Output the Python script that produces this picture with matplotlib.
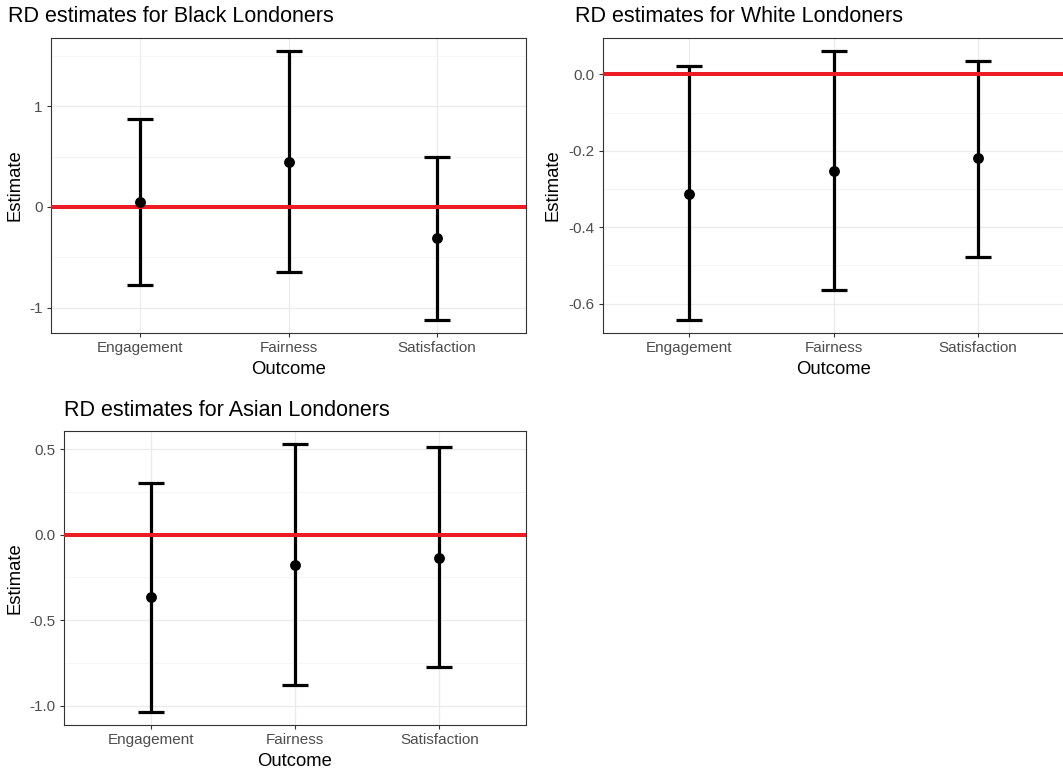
import matplotlib
matplotlib.use("Agg")
import matplotlib.pyplot as plt
import numpy as np
from matplotlib.ticker import FixedLocator

plt.rcParams['font.family'] = ['Liberation Sans', 'DejaVu Sans']

outcomes = ["Engagement", "Fairness", "Satisfaction"]

black_est = [0.05, 0.446, -0.307]
black_lo = [-0.772, -0.644, -1.119]
black_hi = [0.871, 1.545, 0.495]

white_est = [-0.312, -0.252, -0.220]
white_lo = [-0.642, -0.564, -0.477]
white_hi = [0.021, 0.060, 0.034]

asian_est = [-0.364, -0.177, -0.136]
asian_lo = [-1.035, -0.880, -0.776]
asian_hi = [0.300, 0.529, 0.511]

W, H = 1063, 772
fig = plt.figure(figsize=(W / 100, H / 100), dpi=100)


def rect(left, top, right, bottom):
    return [left / W, 1 - bottom / H, (right - left) / W, (bottom - top) / H]


def panel(r, title, title_xy, est, lo, hi, yticks, ylabels, ylab_x, xlab_y, hide_right=False):
    ax = fig.add_axes(r)
    x = np.arange(1, len(outcomes) + 1)
    lo_all = min(min(lo), 0)
    hi_all = max(max(hi), 0)
    pad = 0.05 * (hi_all - lo_all)
    ax.set_ylim(lo_all - pad, hi_all + pad)
    ax.set_xlim(0.4, len(outcomes) + 0.6)

    # grid: major lines at ticks, lighter minor lines halfway between
    ax.yaxis.set_major_locator(FixedLocator(yticks))
    step = yticks[1] - yticks[0]
    minors = [yticks[0] - step / 2] + [t + step / 2 for t in yticks]
    ax.yaxis.set_minor_locator(FixedLocator(minors))
    ax.set_yticklabels(ylabels)
    ax.set_xticks(x)
    ax.set_xticklabels(outcomes)
    ax.grid(True, which='major', color='#EBEBEB', lw=0.9, zorder=0)
    ax.grid(True, which='minor', axis='y', color='#F4F4F4', lw=0.6, zorder=0)
    ax.tick_params(which='minor', length=0)
    ax.tick_params(which='major', length=3, width=0.8, color='#333333',
                   labelcolor='#4D4D4D', labelsize=11, pad=3)
    ax.set_axisbelow(True)

    est = np.asarray(est)
    yerr = np.vstack([est - np.asarray(lo), np.asarray(hi) - est])
    ax.errorbar(x, est, yerr=yerr, fmt='none', ecolor='black', elinewidth=2.3,
                capsize=9.7, capthick=2.3, zorder=3)
    ax.axhline(0, color='#EC1C24', lw=2.9, zorder=4)
    ax.plot(x, est, 'o', color='black', ms=6.8, zorder=5)

    for s in ax.spines.values():
        s.set_color('#333333')
        s.set_linewidth(0.8)
    if hide_right:
        ax.spines['right'].set_visible(False)

    fig.text(title_xy[0] / W, 1 - title_xy[1] / H, title, fontsize=15.5,
             ha='left', va='center', color='black')
    fig.text(ylab_x / W, r[1] + r[3] / 2, "Estimate", rotation=90,
             fontsize=13.3, ha='center', va='center')
    fig.text(r[0] + r[2] / 2, 1 - xlab_y / H, "Outcome", fontsize=13.3,
             ha='center', va='center')
    return ax


panel(rect(51, 38, 526, 333), "RD estimates for Black Londoners", (8, 17),
      black_est, black_lo, black_hi, [-1, 0, 1], ["-1", "0", "1"], 15, 370)

panel(rect(603, 38, 1064, 333), "RD estimates for White Londoners", (575, 17),
      white_est, white_lo, white_hi, [-0.6, -0.4, -0.2, 0.0],
      ["-0.6", "-0.4", "-0.2", "0.0"], 553, 370, hide_right=True)

panel(rect(64, 431, 526, 725), "RD estimates for Asian Londoners", (64, 410),
      asian_est, asian_lo, asian_hi, [-1.0, -0.5, 0.0, 0.5],
      ["-1.0", "-0.5", "0.0", "0.5"], 15, 762)

fig.savefig("out.png", dpi=100, facecolor='white')
